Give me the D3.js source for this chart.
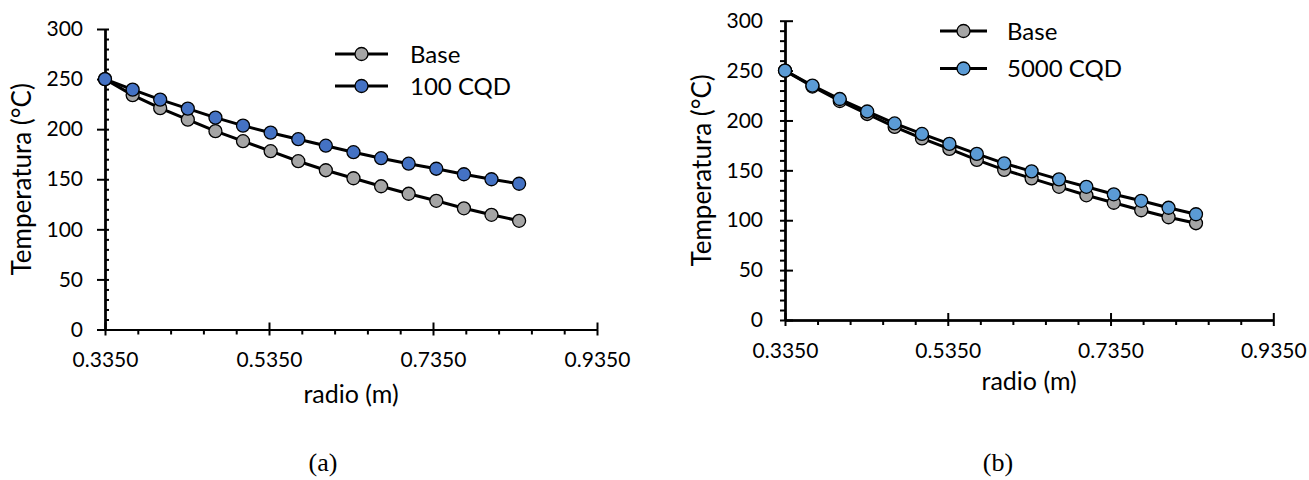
<!DOCTYPE html>
<html>
<head>
<meta charset="utf-8">
<script src="https://cdn.jsdelivr.net/npm/d3@7"></script>
<style>
  body { margin: 0; background: #fff; }
  text { font-family: Lato, "Open Sans", sans-serif; fill: #000; }
</style>
</head>
<body>
<script>
// radio (m) of each sampled point, same for both panels
var radius = [0.335, 0.3687, 0.4023, 0.436, 0.4697, 0.5033, 0.537, 0.5707,
              0.6043, 0.638, 0.6717, 0.7053, 0.739, 0.7727, 0.8063, 0.84];

// panel (a)
var baseA   = [250, 234, 221, 209.5, 198, 188, 178, 168, 159, 151, 143, 135.5, 128.5, 121, 114.5, 108.5];
var cqd100  = [250, 239.5, 229.5, 220.5, 211.5, 203.5, 196.5, 190, 183.5, 177, 171, 165.5, 160.5, 155, 150, 145.5];

// panel (b)
var baseB   = [250, 234, 219.5, 206.5, 193.5, 182, 171.5, 160.5, 150.5, 142, 133.5, 125, 117.5, 110, 103, 97];
var cqd5000 = [250, 235, 221.5, 209, 197, 186.5, 176.5, 166.5, 157, 149, 141, 133.5, 126, 119.5, 112.5, 106];

var xTicks = [0.335, 0.535, 0.735, 0.935];
var xMinor = [0.375, 0.415, 0.455, 0.495, 0.575, 0.615, 0.655, 0.695, 0.775, 0.815, 0.855, 0.895];
var yTicks = [0, 50, 100, 150, 200, 250, 300];
var yMinor = [10, 20, 30, 40, 60, 70, 80, 90, 110, 120, 130, 140, 160, 170, 180, 190, 210, 220, 230, 240, 260, 270, 280, 290];

var seriesA = [{name: "Base", values: baseA, fill: "#a5a5a5"},
               {name: "100 CQD", values: cqd100, fill: "#4472c4"}];
var seriesB = [{name: "Base", values: baseB, fill: "#a5a5a5"},
               {name: "5000 CQD", values: cqd5000, fill: "#5b9bd5"}];

var panels = [
  {x0: 105, x1: 597, y0: 329.5, y1: 29, series: seriesA, minorSide: "in",
   legend: {lx0: 335, lx1: 388, tx: 410, y: 54, dy: 32},
   ytitleX: 22, xtitleY: 403, caption: "(a)", capX: 323},
  {x0: 785, x1: 1273.3, y0: 320, y1: 20.7, series: seriesB, minorSide: "out",
   legend: {lx0: 940, lx1: 987, tx: 1007, y: 31, dy: 37.5},
   ytitleX: 702, xtitleY: 390, caption: "(b)", capX: 998}
];

var svg = d3.select("body").append("svg")
    .attr("width", 1309)
    .attr("height", 480);

svg.append("rect").attr("width", 1309).attr("height", 480).attr("fill", "#fff");

panels.forEach(function(p){
    var x = d3.scaleLinear().domain([0.335, 0.935]).range([p.x0, p.x1]);
    var y = d3.scaleLinear().domain([0, 300]).range([p.y0, p.y1]);
    var g = svg.append("g");

    // x axis: labels + outside part of major ticks
    var gx = g.append("g").attr("transform", "translate(0," + p.y0 + ")");
    gx.call(d3.axisBottom(x).tickValues(xTicks).tickFormat(d3.format(".4f"))
            .tickSizeInner(6).tickSizeOuter(0).tickPadding(17));
    gx.append("g").call(d3.axisTop(x).tickValues(xTicks).tickFormat("").tickSize(7).tickSizeOuter(0));
    gx.append("g").call(d3.axisBottom(x).tickValues(xMinor).tickFormat("").tickSize(5).tickSizeOuter(0));

    // y axis
    var gy = g.append("g").attr("transform", "translate(" + p.x0 + ",0)");
    gy.call(d3.axisLeft(y).tickValues(yTicks).tickSizeInner(p.minorSide == "in" ? 8 : 5)
            .tickSizeOuter(0).tickPadding(p.minorSide == "in" ? 14 : 17));
    gy.append("g").call(d3.axisRight(y).tickValues(yTicks).tickFormat("")
            .tickSize(p.minorSide == "in" ? 4 : 8).tickSizeOuter(0));
    if (p.minorSide == "in") {
        gy.append("g").call(d3.axisRight(y).tickValues(yMinor).tickFormat("").tickSize(4).tickSizeOuter(0));
    } else {
        gy.append("g").call(d3.axisLeft(y).tickValues(yMinor).tickFormat("").tickSize(5).tickSizeOuter(0));
    }

    g.selectAll(".domain").attr("stroke", "#000").attr("stroke-width", 2);
    g.selectAll(".tick line").attr("stroke", "#000").attr("stroke-width", 2);
    g.selectAll(".tick text").style("font-family", "Lato, sans-serif").style("font-size", "21px").attr("fill", "#000");

    // axis titles
    g.append("text")
        .attr("transform", "translate(" + p.ytitleX + "," + ((p.y0 + p.y1) / 2) + ") rotate(-90)")
        .attr("text-anchor", "middle")
        .attr("dy", "0.35em")
        .style("font-size", "26px")
        .text("Temperatura (°C)");

    g.append("text")
        .attr("x", (p.x0 + p.x1) / 2)
        .attr("y", p.xtitleY)
        .attr("text-anchor", "middle")
        .style("font-size", "25px")
        .text("radio (m)");

    // series
    var line = d3.line()
        .x(function(d, i){ return x(radius[i]); })
        .y(function(d){ return y(d); });

    p.series.forEach(function(s){
        g.append("path")
            .datum(s.values)
            .attr("d", line)
            .attr("fill", "none")
            .attr("stroke", "#000")
            .attr("stroke-width", 3);
        g.selectAll(null)
            .data(s.values)
            .enter()
            .append("circle")
            .attr("cx", function(d, i){ return x(radius[i]); })
            .attr("cy", function(d){ return y(d); })
            .attr("r", 6.5)
            .attr("fill", s.fill)
            .attr("stroke", "#000")
            .attr("stroke-width", 1.3);
    });

    // legend
    var L = p.legend;
    p.series.forEach(function(s, i){
        var ly = L.y + i * L.dy;
        g.append("line")
            .attr("x1", L.lx0).attr("x2", L.lx1)
            .attr("y1", ly).attr("y2", ly)
            .attr("stroke", "#000").attr("stroke-width", 3);
        g.append("circle")
            .attr("cx", (L.lx0 + L.lx1) / 2).attr("cy", ly)
            .attr("r", 6.5)
            .attr("fill", s.fill).attr("stroke", "#000").attr("stroke-width", 1.3);
        g.append("text")
            .attr("x", L.tx).attr("y", ly)
            .attr("dy", "0.36em")
            .style("font-size", "24px")
            .text(s.name);
    });

    // caption
    g.append("text")
        .attr("x", p.capX).attr("y", 471)
        .attr("text-anchor", "middle")
        .style("font-family", "'Liberation Serif', serif")
        .style("font-size", "26px")
        .text(p.caption);
});
</script>
</body>
</html>
